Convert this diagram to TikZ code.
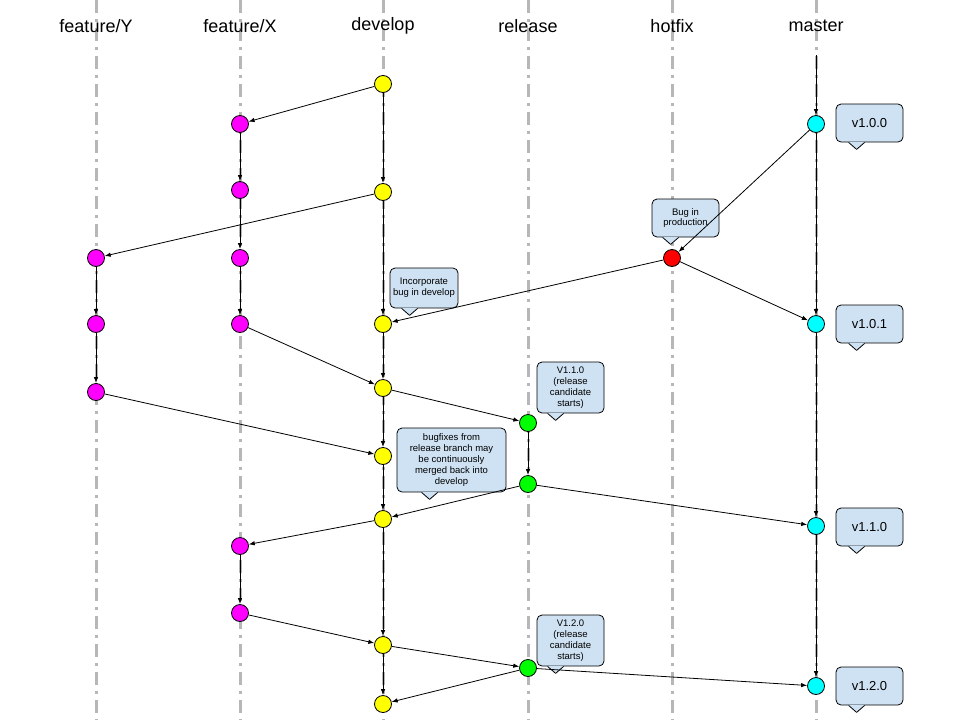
\documentclass[tikz,border=0pt]{standalone}
\usepackage{fontspec}
\setmainfont{Liberation Sans}
\usetikzlibrary{arrows.meta,calc}
\definecolor{lanegray}{HTML}{B7B7B7}
\definecolor{cfill}{HTML}{CFE2F3}
\definecolor{cyel}{HTML}{FFFF00}
\definecolor{cmag}{HTML}{FF00FF}
\definecolor{ccya}{HTML}{00FFFF}
\definecolor{cgrn}{HTML}{00FF00}
\definecolor{cred}{HTML}{FF0000}
\newcommand\calltail[2]{%
  \fill[cfill] ($(#1.south west)+(#2-8,-0.6)$) -- ($(#1.south west)+(#2+8,-0.6)$) -- ($(#1.south west)+(#2+8,0)$) -- ($(#1.south west)+(#2,7)$) -- ($(#1.south west)+(#2-8,0)$) -- cycle;
  \draw[line width=0.8pt, line join=round] ($(#1.south west)+(#2-8,0)$) -- ($(#1.south west)+(#2,7)$) -- ($(#1.south west)+(#2+8,0)$);}
\begin{document}
\begin{tikzpicture}[x=1pt,y=-1pt,
  lane/.style={lanegray, line width=3pt, dash pattern=on 13pt off 6pt on 3pt off 6pt},
  hdr/.style={font=\fontsize{18}{21}\selectfont, inner sep=0},
  commit/.style={circle, draw=black, line width=0.8pt, minimum size=17pt, inner sep=0},
  yel/.style={commit, fill=cyel},
  mag/.style={commit, fill=cmag},
  cya/.style={commit, fill=ccya},
  grn/.style={commit, fill=cgrn},
  redc/.style={commit, fill=cred},
  flow/.style={draw=black, line width=0.8pt, -{Latex[length=6pt,width=4.5pt]}},
  callout/.style={draw=black, line width=0.8pt, fill=cfill, rounded corners=5pt, align=center, inner sep=0, font=\fontsize{9.5}{10.8}\selectfont},
  vcall/.style={callout, font=\fontsize{13}{15}\selectfont, minimum width=67pt, minimum height=38pt},
  rcall/.style={callout, minimum width=67pt, minimum height=51pt}
]
\useasboundingbox (0,0) rectangle (960,720);
% lanes
\foreach \x in {96,240,383,528,672,816} \draw[lane] (\x,0) -- (\x,720);
% headers
\node[hdr] (hY) at (96,26) {feature/Y};
\node[hdr] (hX) at (240,26) {feature/X};
\node[hdr] (hD) at (383,26) {develop};
\node[hdr] (hR) at (528,26) {release};
\node[hdr] (hH) at (672,26) {hotfix};
\node[hdr] (hM) at (816,26) {master};
% callouts
\node[vcall] (c1) at (869.5,123) {v1.0.0}; \calltail{c1}{21}
\node[vcall] (c2) at (869.5,324) {v1.0.1}; \calltail{c2}{21}
\node[vcall] (c3) at (869.5,527) {v1.1.0}; \calltail{c3}{21}
\node[vcall] (c4) at (869.5,686) {v1.2.0}; \calltail{c4}{21}
\node[callout, minimum width=67pt, minimum height=38pt] (c5) at (685.5,218) {Bug in\\production}; \calltail{c5}{19}
\node[callout, minimum width=68pt, minimum height=40pt] (c6) at (424,288) {Incorporate\\bug in develop}; \calltail{c6}{20}
\node[callout, minimum width=109pt, minimum height=64pt] (c7) at (451.5,460) {bugfixes from\\release branch may\\be continuously\\merged back into\\develop}; \calltail{c7}{33}
\node[rcall] (c8) at (570.5,387.5) {V1.1.0\\(release\\candidate\\starts)}; \calltail{c8}{19}
\node[rcall] (c9) at (570.5,640.5) {V1.2.0\\(release\\candidate\\starts)}; \calltail{c9}{19}
% commits
\node[yel] (D1) at (383,84) {};
\node[yel] (D2) at (383,192) {};
\node[yel] (D3) at (383,324) {};
\node[yel] (D4) at (383,388) {};
\node[yel] (D5) at (383,456) {};
\node[yel] (D6) at (383,519) {};
\node[yel] (D7) at (383,645) {};
\node[yel] (D8) at (383,704) {};
\node[mag] (X1) at (240,124) {};
\node[mag] (X2) at (240,190) {};
\node[mag] (X3) at (240,258) {};
\node[mag] (X4) at (240,324) {};
\node[mag] (X5) at (240,546) {};
\node[mag] (X6) at (240,613) {};
\node[mag] (Y1) at (96,258) {};
\node[mag] (Y2) at (96,324) {};
\node[mag] (Y3) at (96,392) {};
\node[grn] (R1) at (528,423) {};
\node[grn] (R2) at (528,484) {};
\node[grn] (R3) at (528,668) {};
\node[redc] (H1) at (672,258) {};
\node[cya] (M1) at (816,124) {};
\node[cya] (M2) at (816,324) {};
\node[cya] (M3) at (816,526) {};
\node[cya] (M4) at (816,686) {};
\coordinate (M0) at (816,55);
% edges
\draw[flow] (M0) -- (M1);
\draw[flow] (D1) -- (X1);
\draw[flow] (D1) -- (D2);
\draw[flow] (X1) -- (X2);
\draw[flow] (X2) -- (X3);
\draw[flow] (X3) -- (X4);
\draw[flow] (D2) -- (Y1);
\draw[flow] (D2) -- (D3);
\draw[flow] (Y1) -- (Y2);
\draw[flow] (Y2) -- (Y3);
\draw[flow] (M1) -- (H1);
\draw[flow] (M1) -- (M2);
\draw[flow] (H1) -- (D3);
\draw[flow] (H1) -- (M2);
\draw[flow] (X4) -- (D4);
\draw[flow] (D3) -- (D4);
\draw[flow] (D4) -- (R1);
\draw[flow] (Y3) -- (D5);
\draw[flow] (D4) -- (D5);
\draw[flow] (R1) -- (R2);
\draw[flow] (R2) -- (D6);
\draw[flow] (R2) -- (M3);
\draw[flow] (D5) -- (D6);
\draw[flow] (M2) -- (M3);
\draw[flow] (D6) -- (X5);
\draw[flow] (X5) -- (X6);
\draw[flow] (X6) -- (D7);
\draw[flow] (D6) -- (D7);
\draw[flow] (D7) -- (R3);
\draw[flow] (R3) -- (M4);
\draw[flow] (M3) -- (M4);
\draw[flow] (R3) -- (D8);
\draw[flow] (D7) -- (D8);
\end{tikzpicture}
\end{document}
